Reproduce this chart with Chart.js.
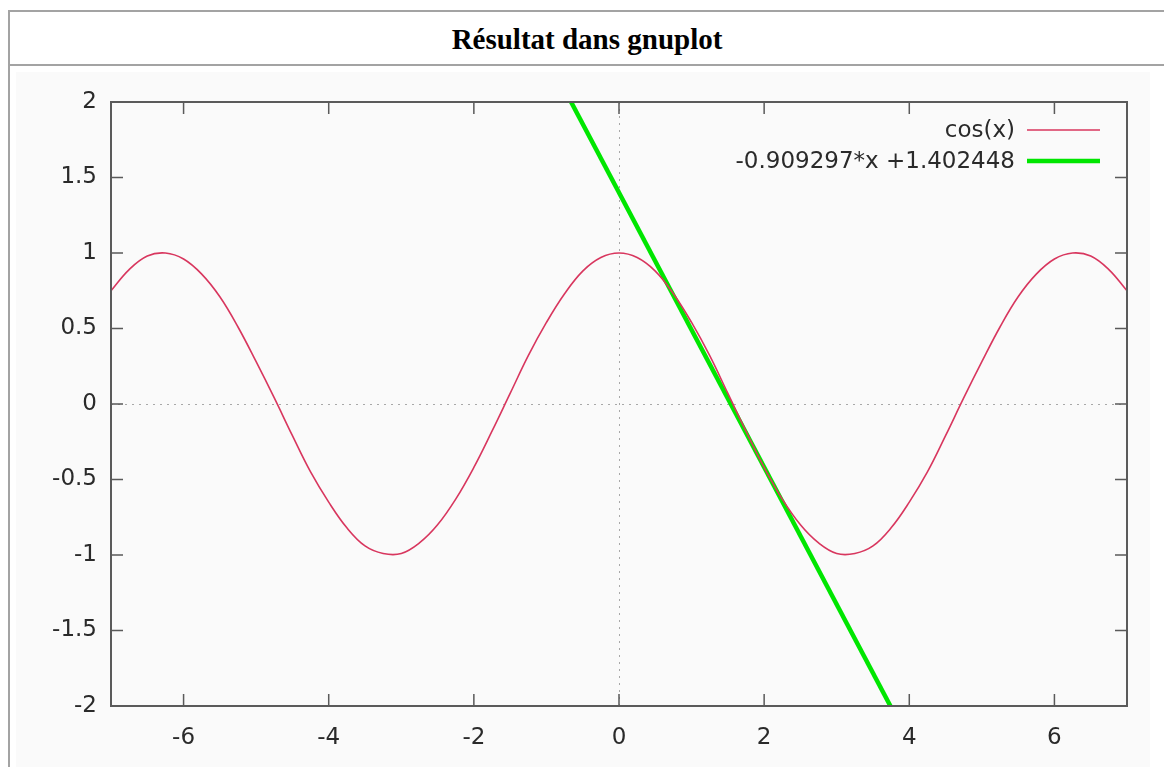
<!DOCTYPE html>
<html>
<head>
<meta charset="utf-8">
<title>Résultat dans gnuplot</title>
<script src="https://cdn.jsdelivr.net/npm/chart.js@4/dist/chart.umd.min.js"></script>
<style>
  body { margin: 0; background: #fff; }
  #frame { position: absolute; left: 8px; top: 10px; width: 1160px; height: 760px;
           border-top: 2px solid #a3a3a3; border-left: 2px solid #a3a3a3; }
  #title { position: absolute; left: 10px; top: 12px; width: 1154px; height: 52px;
           font: bold 29px "Liberation Serif", "Times New Roman", serif; line-height: 54px;
           text-align: center; color: #000; border-bottom: 2px solid #a3a3a3; }
  #plot { position: absolute; left: 16px; top: 72px; width: 1134px; height: 695px; background: #fafafa; }
</style>
</head>
<body>
<div id="frame"></div>
<div id="title">Résultat dans gnuplot</div>
<div id="plot"><canvas id="chart" width="1134" height="695"></canvas></div>
<script>
// tick positions
const xTicks = [-6, -4, -2, 0, 2, 4, 6];
const yTicks = [-2, -1.5, -1, -0.5, 0, 0.5, 1, 1.5, 2];

// cos(x) samples
const cosX = [-7, -6.75, -6.5, -6.25, -6, -5.75, -5.5, -5.25, -5, -4.75, -4.5, -4.25, -4, -3.75, -3.5, -3.25,
              -3, -2.75, -2.5, -2.25, -2, -1.75, -1.5, -1.25, -1, -0.75, -0.5, -0.25, 0,
              0.25, 0.5, 0.75, 1, 1.25, 1.5, 1.75, 2, 2.25, 2.5, 2.75, 3, 3.25, 3.5, 3.75,
              4, 4.25, 4.5, 4.75, 5, 5.25, 5.5, 5.75, 6, 6.25, 6.5, 6.75, 7];
const cosY = [0.75, 0.89, 0.98, 1.0, 0.96, 0.86, 0.71, 0.51, 0.28, 0.04, -0.21, -0.45, -0.65, -0.82, -0.94, -0.99,
              -0.99, -0.92, -0.80, -0.63, -0.42, -0.18, 0.07, 0.32, 0.54, 0.73, 0.88, 0.97, 1.0,
              0.97, 0.88, 0.73, 0.54, 0.32, 0.07, -0.18, -0.42, -0.63, -0.80, -0.92, -0.99, -0.99, -0.94, -0.82,
              -0.65, -0.45, -0.21, 0.04, 0.28, 0.51, 0.71, 0.86, 0.96, 1.0, 0.98, 0.89, 0.75];

// tangent line end points
const lineX = [-0.66, 3.74];
const lineY = [2, -2];

const pts = (xs, ys) => xs.map((x, i) => ({ x: x, y: ys[i] }));

const FONT = '"DejaVu Sans", sans-serif';
const AXIS = '#5a5a5a';
const LABEL = '#2a2a2a';

// gnuplot style border, mirrored inward ticks, zero axes and key
const gnuplotFrame = {
    id: 'gnuplotFrame',
    beforeDatasetsDraw(chart) {
        const { ctx, chartArea: a, scales: { x, y } } = chart;
        ctx.save();
        ctx.strokeStyle = '#a8a8a8';
        ctx.lineWidth = 1;
        ctx.setLineDash([2, 5]);
        const x0 = Math.round(x.getPixelForValue(0)) + 0.5;
        const y0 = Math.round(y.getPixelForValue(0)) + 0.5;
        ctx.beginPath();
        ctx.moveTo(x0, a.top); ctx.lineTo(x0, a.bottom);
        ctx.moveTo(a.left, y0); ctx.lineTo(a.right, y0);
        ctx.stroke();
        ctx.restore();
    },
    afterDatasetsDraw(chart) {
        const { ctx, chartArea: a, scales: { x, y } } = chart;
        const tl = 12;
        ctx.save();
        ctx.strokeStyle = AXIS;
        ctx.lineWidth = 1.5;
        ctx.beginPath();
        xTicks.forEach(v => {
            const px = x.getPixelForValue(v);
            ctx.moveTo(px, a.bottom); ctx.lineTo(px, a.bottom - tl);
            ctx.moveTo(px, a.top); ctx.lineTo(px, a.top + tl);
        });
        yTicks.forEach(v => {
            const py = y.getPixelForValue(v);
            ctx.moveTo(a.left, py); ctx.lineTo(a.left + tl, py);
            ctx.moveTo(a.right, py); ctx.lineTo(a.right - tl, py);
        });
        ctx.stroke();
        ctx.lineWidth = 2;
        ctx.strokeRect(a.left, a.top, a.right - a.left, a.bottom - a.top);

        // key
        ctx.font = '23px ' + FONT;
        ctx.textAlign = 'right';
        ctx.textBaseline = 'middle';
        chart.data.datasets.forEach((ds, i) => {
            const ky = a.top + 28 + i * 31;
            ctx.fillStyle = LABEL;
            ctx.fillText(ds.label, a.right - 112, ky + 1);
            ctx.strokeStyle = ds.borderColor;
            ctx.lineWidth = ds.borderWidth;
            ctx.beginPath();
            ctx.moveTo(a.right - 100, ky); ctx.lineTo(a.right - 27, ky);
            ctx.stroke();
        });
        ctx.restore();
    }
};

new Chart(document.getElementById('chart'), {
    type: 'scatter',
    data: {
        datasets: [{
            label: 'cos(x)',
            data: pts(cosX, cosY),
            showLine: true,
            borderColor: '#d8365e',
            borderWidth: 1.6,
            tension: 0.4,
            pointRadius: 0
        }, {
            label: '-0.909297*x +1.402448',
            data: pts(lineX, lineY),
            showLine: true,
            borderColor: '#00e600',
            borderWidth: 4.5,
            pointRadius: 0
        }]
    },
    options: {
        responsive: false,
        animation: false,
        layout: { padding: { top: 30, right: 23, left: 0, bottom: 0 } },
        plugins: {
            legend: { display: false },
            tooltip: { enabled: false }
        },
        scales: {
            x: {
                type: 'linear',
                min: -7,
                max: 7,
                afterBuildTicks: s => { s.ticks = xTicks.map(v => ({ value: v })); },
                afterFit: s => { s.height = 61; },
                grid: { display: false, drawTicks: false },
                border: { display: false },
                ticks: { color: LABEL, font: { family: FONT, size: 23 }, padding: 18, maxRotation: 0,
                         callback: v => String(v) }
            },
            y: {
                type: 'linear',
                min: -2,
                max: 2,
                afterBuildTicks: s => { s.ticks = yTicks.map(v => ({ value: v })); },
                afterFit: s => { s.width = 95; },
                grid: { display: false, drawTicks: false },
                border: { display: false },
                ticks: { color: LABEL, font: { family: FONT, size: 23 }, padding: 14,
                         callback: v => String(v) }
            }
        }
    },
    plugins: [gnuplotFrame]
});
</script>
</body>
</html>
